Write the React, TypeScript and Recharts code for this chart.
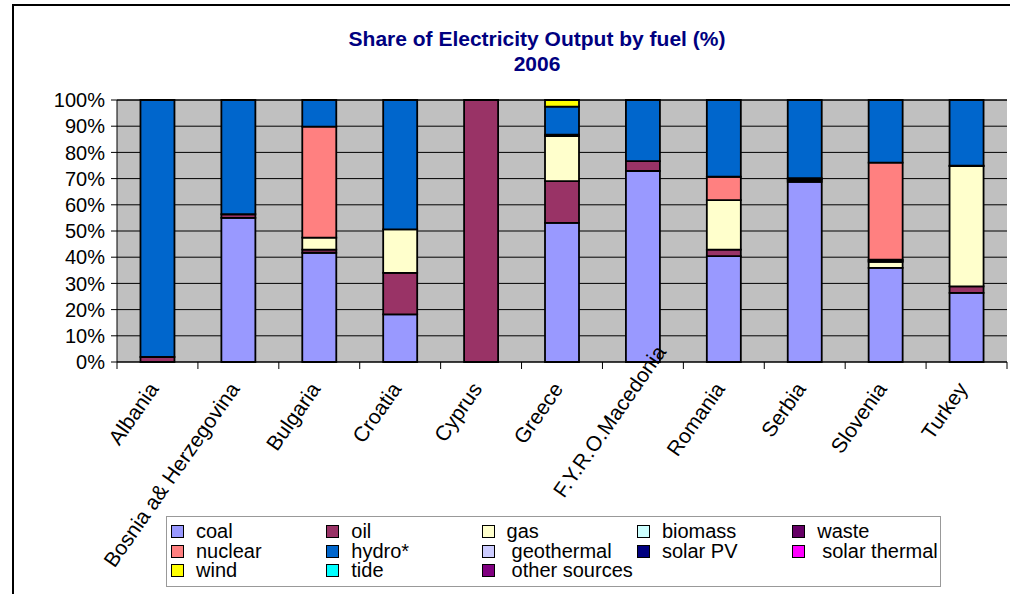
import { BarChart, Bar, XAxis, YAxis, CartesianGrid, Legend } from 'recharts';

const countries = [
  'Albania',
  'Bosnia a& Herzegovina',
  'Bulgaria',
  'Croatia',
  'Cyprus',
  'Greece',
  'F.Y.R.O.Macedonia',
  'Romania',
  'Serbia',
  'Slovenia',
  'Turkey',
];

// share of output (%), one value per country
const coal = [0, 55.0, 41.7, 18.2, 0, 53.1, 72.9, 40.4, 68.8, 35.9, 26.4];
const oil = [1.9, 1.4, 1.2, 15.8, 100, 15.9, 3.8, 2.5, 0.7, 0, 2.5];
const gas = [0, 0, 4.6, 16.6, 0, 17.2, 0, 18.9, 0.4, 2.3, 45.9];
const biomass = [0, 0, 0, 0, 0, 0.2, 0, 0, 0, 0.5, 0.1];
const waste = [0, 0, 0, 0, 0, 0.4, 0, 0, 0.3, 0.4, 0];
const nuclear = [0, 0, 42.3, 0, 0, 0, 0, 8.9, 0, 37.0, 0];
const hydro = [98.1, 43.6, 10.2, 49.4, 0, 10.7, 23.3, 29.3, 29.8, 23.9, 25.1];
const geothermal = [0, 0, 0, 0, 0, 0, 0, 0, 0, 0, 0];
const solarPV = [0, 0, 0, 0, 0, 0, 0, 0, 0, 0, 0];
const solarThermal = [0, 0, 0, 0, 0, 0, 0, 0, 0, 0, 0];
const wind = [0, 0, 0, 0, 0, 2.5, 0, 0, 0, 0, 0];
const tide = [0, 0, 0, 0, 0, 0, 0, 0, 0, 0, 0];
const otherSources = [0, 0, 0, 0, 0, 0, 0, 0, 0, 0, 0];

const yTicks = [0, 10, 20, 30, 40, 50, 60, 70, 80, 90, 100];

const series = [
  { key: 'coal', name: 'coal', color: '#9999FF', values: coal },
  { key: 'oil', name: 'oil', color: '#993366', values: oil },
  { key: 'gas', name: 'gas', color: '#FFFFCC', values: gas },
  { key: 'biomass', name: 'biomass', color: '#CCFFFF', values: biomass },
  { key: 'waste', name: 'waste', color: '#660066', values: waste },
  { key: 'nuclear', name: 'nuclear', color: '#FF8080', values: nuclear },
  { key: 'hydro', name: 'hydro*', color: '#0066CC', values: hydro },
  { key: 'geothermal', name: 'geothermal', color: '#CCCCFF', values: geothermal },
  { key: 'solarPV', name: 'solar PV', color: '#000080', values: solarPV },
  { key: 'solarThermal', name: 'solar thermal', color: '#FF00FF', values: solarThermal },
  { key: 'wind', name: 'wind', color: '#FFFF00', values: wind },
  { key: 'tide', name: 'tide', color: '#00FFFF', values: tide },
  { key: 'other', name: 'other sources', color: '#800080', values: otherSources },
];

const data = countries.map((country, i) => {
  const row: Record<string, string | number> = { country };
  series.forEach((s) => {
    row[s.key] = s.values[i];
  });
  return row;
});

const font = '"Liberation Sans", Arial, sans-serif';
const indented = ['geothermal', 'solar thermal', 'other sources'];
// the original pushes this long label up over its own bar
const liftedLabel = 'F.Y.R.O.Macedonia';

function CountryTick({ x, y, payload, index, visibleTicksCount }: any) {
  const half = payload && payload.offset ? payload.offset : 40.45;
  const lifted = payload.value === liftedLabel;
  const tx = x + 2 + (lifted ? 22 : 0);
  const ty = y + 27 - (lifted ? 37 : 0);
  return (
    <g>
      <line x1={x - half} y1={y} x2={x - half} y2={y + 7} stroke="#000" />
      {index === visibleTicksCount - 1 && (
        <line x1={x + half} y1={y} x2={x + half} y2={y + 7} stroke="#000" />
      )}
      <text
        transform={`translate(${tx},${ty}) rotate(-55)`}
        textAnchor="end"
        fontSize={21}
        fontFamily={font}
        fill="#000"
      >
        {payload.value}
      </text>
    </g>
  );
}

function FuelLegend() {
  return (
    <div
      style={{
        boxSizing: 'border-box',
        width: 775,
        height: 71,
        border: '1px solid #999',
        background: '#fff',
        padding: '5px 0 0 4px',
        display: 'grid',
        gridTemplateColumns: 'repeat(5, 155.3px)',
        gridAutoRows: '19.5px',
        fontFamily: font,
        fontSize: 20,
        lineHeight: '19.5px',
        color: '#000',
      }}
    >
      {series.map((s) => (
        <div key={s.key} style={{ display: 'flex', alignItems: 'center', whiteSpace: 'nowrap' }}>
          <span
            style={{
              display: 'inline-block',
              width: 11,
              height: 11,
              border: '1px solid #000',
              background: s.color,
              marginRight: indented.includes(s.name) ? 17 : 12,
            }}
          />
          <span>{s.name}</span>
        </div>
      ))}
    </div>
  );
}

export default function App() {
  return (
    <div style={{ position: 'absolute', left: 0, top: 0, width: 1010, height: 594, overflow: 'hidden', background: '#fff' }}>
      <div
        style={{
          position: 'absolute',
          left: 12,
          top: 4,
          width: 998,
          height: 590,
          borderLeft: '2.5px solid #000',
          borderTop: '2.5px solid #000',
          boxSizing: 'border-box',
        }}
      />
      <div
        style={{
          position: 'absolute',
          left: 287,
          top: 26,
          width: 500,
          textAlign: 'center',
          fontFamily: font,
          fontWeight: 'bold',
          fontSize: 21,
          lineHeight: '25px',
          color: '#000080',
        }}
      >
        Share of Electricity Output by fuel (%)
        <br />
        2006
      </div>
      <BarChart
        width={1010}
        height={594}
        data={data}
        margin={{ top: 100, right: 3, left: 0, bottom: 0 }}
        barCategoryGap="29%"
      >
        <CartesianGrid vertical={false} stroke="#000" fill="#C0C0C0" fillOpacity={1} />
        <XAxis
          dataKey="country"
          height={232}
          interval={0}
          tickLine={false}
          tickSize={0}
          tickMargin={0}
          axisLine={{ stroke: '#000' }}
          tick={<CountryTick />}
        />
        <YAxis
          width={117}
          domain={[0, 100]}
          ticks={yTicks}
          interval={0}
          tickFormatter={(v: number) => `${v}%`}
          tick={{ fill: '#000', fontSize: 20, fontFamily: font }}
          tickLine={{ stroke: '#000' }}
          tickSize={6}
          tickMargin={6}
          axisLine={{ stroke: '#000' }}
        />
        <Legend
          layout="vertical"
          verticalAlign="middle"
          align="center"
          content={() => <FuelLegend />}
          wrapperStyle={{ left: 166, top: 516, width: 775, height: 71 }}
        />
        {series.map((s) => (
          <Bar
            key={s.key}
            dataKey={s.key}
            name={s.name}
            stackId="fuel"
            fill={s.color}
            stroke="#000"
            strokeWidth={1.8}
            isAnimationActive={false}
          />
        ))}
      </BarChart>
    </div>
  );
}
